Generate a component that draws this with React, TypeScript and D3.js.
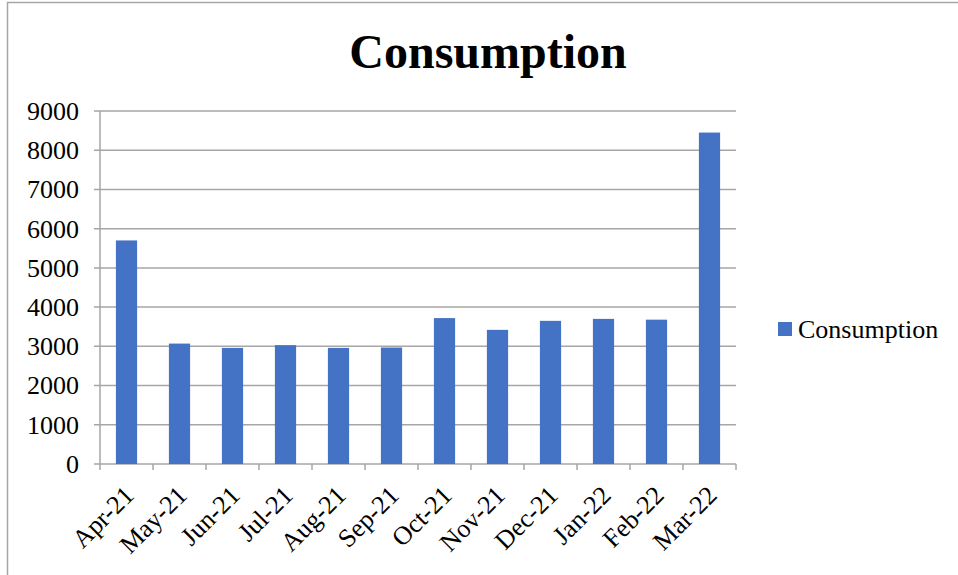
import React from "react";
import * as d3 from "d3";

const categories = ["Apr-21","May-21","Jun-21","Jul-21","Aug-21","Sep-21","Oct-21","Nov-21","Dec-21","Jan-22","Feb-22","Mar-22"];
const consumption = [5700, 3070, 2960, 3030, 2960, 2970, 3720, 3420, 3650, 3700, 3680, 8450];
const yTicks = [0,1000,2000,3000,4000,5000,6000,7000,8000,9000];
const seriesName = "Consumption";
const title = "Consumption";

const W = 958, H = 575;
const plot = { left: 100, right: 736, top: 111, bottom: 464 };
const font = "'Liberation Serif', 'Times New Roman', serif";
const grid = "#a6a6a6";
const barColor = "#4472C4";

export default function App() {
  const x = d3.scaleBand<string>().domain(categories).range([plot.left, plot.right]).paddingInner(0.6).paddingOuter(0.3);
  const band = d3.scaleBand<string>().domain(categories).range([plot.left, plot.right]);
  const y = d3.scaleLinear().domain([0, 9000]).range([plot.bottom, plot.top]);
  return (
    <svg width={W} height={H} style={{ position: "absolute", left: 0, top: 0, background: "#fff" }} fontFamily={font}>
      <rect x={7.5} y={2.5} width={1200} height={1200} fill="none" stroke="#a6a6a6" strokeWidth={1.5} />
      <text x={488} y={68} textAnchor="middle" fontSize={48} fontWeight="bold">{title}</text>
      {yTicks.map(t => (
        <g key={t}>
          <line x1={plot.left - 6} x2={plot.right} y1={y(t)} y2={y(t)} stroke={grid} strokeWidth={1.5} />
          <text x={79} y={y(t)} dy="0.34em" textAnchor="end" fontSize={26}>{t}</text>
        </g>
      ))}
      <line x1={plot.left} x2={plot.left} y1={plot.top} y2={plot.bottom} stroke={grid} strokeWidth={1.5} />
      {categories.map((c, i) => (
        <line key={"t" + c} x1={band(c)!} x2={band(c)!} y1={plot.bottom} y2={plot.bottom + 6} stroke={grid} strokeWidth={1.5} />
      ))}
      <line x1={plot.right} x2={plot.right} y1={plot.bottom} y2={plot.bottom + 6} stroke={grid} strokeWidth={1.5} />
      {categories.map((c, i) => (
        <rect key={c} x={x(c)!} y={y(consumption[i])} width={x.bandwidth()} height={y(0) - y(consumption[i])} fill={barColor} />
      ))}
      {categories.map(c => {
        const cx = band(c)! + band.bandwidth() / 2;
        return (
          <text key={"l" + c} transform={`translate(${cx - 4},${plot.bottom + 20}) rotate(-45)`} textAnchor="end" dy="0.7em" fontSize={26}>{c}</text>
        );
      })}
      <rect x={778} y={322} width={14} height={14} fill={barColor} />
      <text x={798} y={338} fontSize={26}>{seriesName}</text>
    </svg>
  );
}
